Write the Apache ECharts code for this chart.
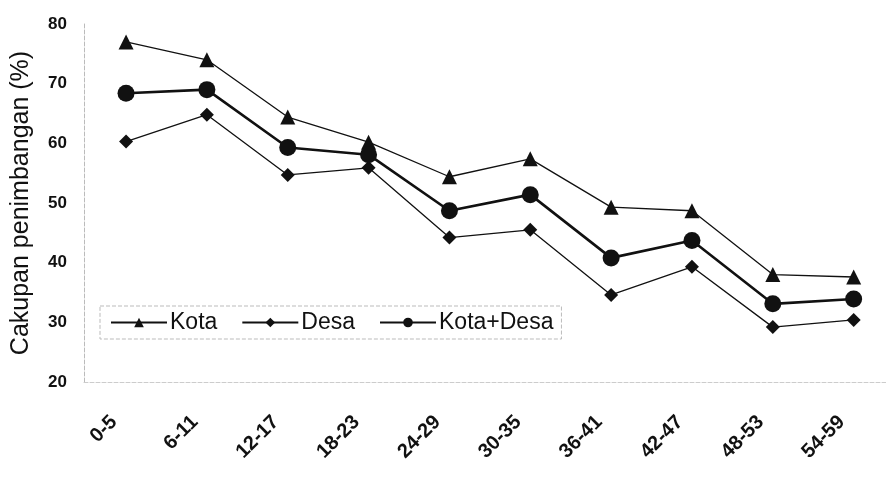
<!DOCTYPE html>
<html><head><meta charset="utf-8">
<script src="https://cdn.jsdelivr.net/npm/echarts@6/dist/echarts.min.js"></script>
<style>html,body{margin:0;padding:0;background:#fff}#c{width:886px;height:494px}</style>
</head><body><div id="c"></div>
<script>
const categories = ['0-5','6-11','12-17','18-23','24-29','30-35','36-41','42-47','48-53','54-59'];
const kota = [77.0, 74.0, 64.4, 60.2, 54.4, 57.4, 49.3, 48.7, 38.0, 37.6];
const desa = [60.3, 64.8, 54.7, 55.9, 44.2, 45.5, 34.6, 39.3, 29.2, 30.4];
const kotaDesa = [68.4, 69.0, 59.3, 58.1, 48.7, 51.4, 40.8, 43.7, 33.1, 33.9];
const yTicks = [20, 30, 40, 50, 60, 70, 80];
const seriesNames = ['Kota', 'Desa', 'Kota+Desa'];

const font = 'Liberation Sans';
const idx = categories.map((c, i) => i);
const pair = arr => arr.map((v, i) => [i, v]);
const chart = echarts.init(document.getElementById('c'));
chart.setOption({
  animation: false,
  backgroundColor: '#fff',
  grid: {left: 84, right: 0, top: 24, bottom: 112},
  legend: {
    left: 100, top: 306,
    padding: [5, 8, 5, 10],
    itemGap: 24,
    itemWidth: 56, itemHeight: 12,
    borderColor: '#bbb', borderWidth: 1, borderType: 'dashed',
    textStyle: {fontFamily: font, fontSize: 23, color: '#111', padding: [0, 0, 0, -2]},
    data: seriesNames
  },
  xAxis: {
    type: 'value',
    min: -0.52, max: 9.4,
    splitLine: {show: false},
    axisLine: {show: true, onZero: false, lineStyle: {color: '#ccc', type: 'dashed'}},
    axisTick: {show: false},
    axisLabel: {
      customValues: idx,
      formatter: v => categories[Math.round(v)],
      rotate: 45, margin: 25, padding: [0, 17, 0, 0],
      fontFamily: font, fontSize: 20, fontWeight: 'bold', color: '#111'
    }
  },
  yAxis: {
    type: 'value',
    min: yTicks[0], max: yTicks[yTicks.length - 1], interval: 10,
    name: 'Cakupan penimbangan (%)',
    nameLocation: 'middle',
    nameGap: 50,
    nameTextStyle: {fontFamily: font, fontSize: 25, color: '#111'},
    axisLine: {show: true, onZero: false, lineStyle: {color: '#bbb', type: 'dashed'}},
    axisTick: {show: false},
    splitLine: {show: false},
    axisLabel: {margin: 17, fontFamily: font, fontSize: 17, fontWeight: 'bold', color: '#111'}
  },
  series: [
    {name: seriesNames[0], type: 'line', data: pair(kota), symbol: 'triangle', symbolSize: 15,
     itemStyle: {color: '#111'}, lineStyle: {color: '#111', width: 1.3}},
    {name: seriesNames[1], type: 'line', data: pair(desa), symbol: 'diamond', symbolSize: 14,
     itemStyle: {color: '#111'}, lineStyle: {color: '#111', width: 1.3}},
    {name: seriesNames[2], type: 'line', data: pair(kotaDesa), symbol: 'circle', symbolSize: 17,
     itemStyle: {color: '#111'}, lineStyle: {color: '#111', width: 2.6}}
  ]
});
</script></body></html>
